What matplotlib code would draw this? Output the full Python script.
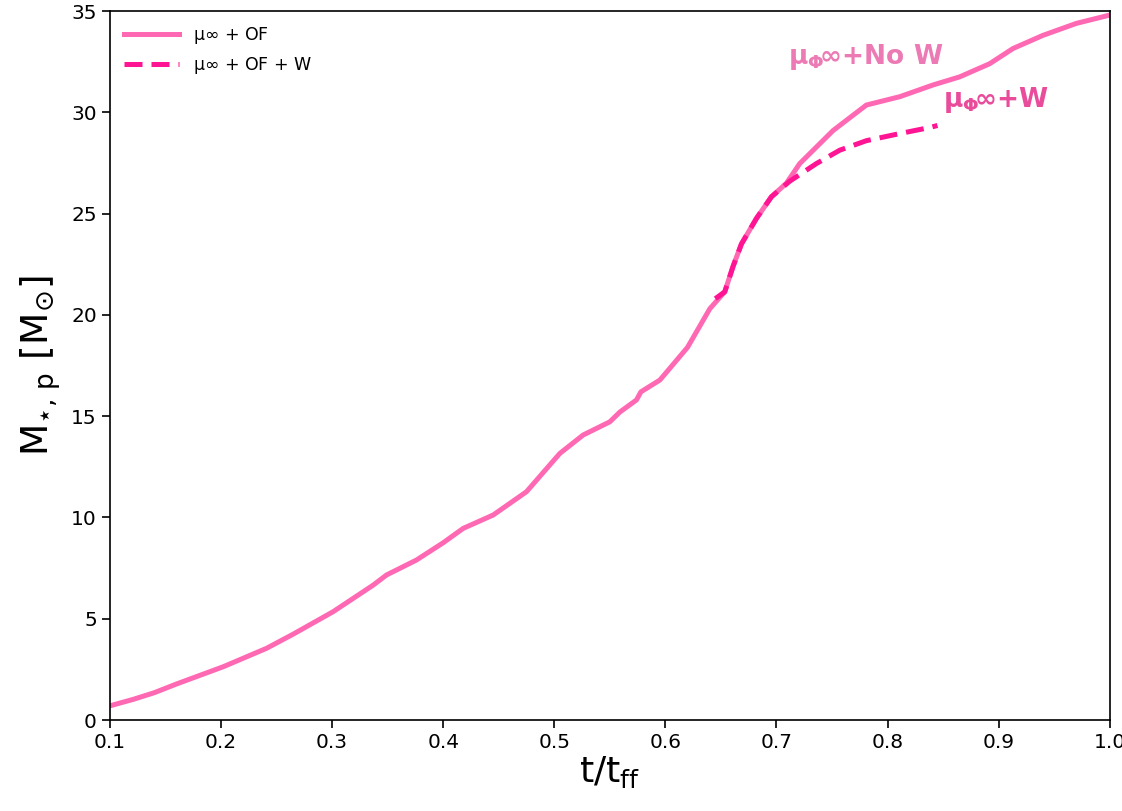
import matplotlib
matplotlib.use("Agg")
import matplotlib.pyplot as plt

# Stellar mass growth, no-wind run
t_nowind = [0.100, 0.121, 0.140, 0.160, 0.202, 0.241, 0.265, 0.301, 0.337, 0.349,
            0.376, 0.400, 0.418, 0.445, 0.475, 0.505, 0.526, 0.550, 0.559, 0.574,
            0.578, 0.595, 0.600, 0.620, 0.640, 0.6535, 0.661, 0.6685, 0.682, 0.6955,
            0.709, 0.721, 0.751, 0.781, 0.811, 0.841, 0.865, 0.892, 0.913, 0.940,
            0.970, 1.000]
m_nowind = [0.70, 1.02, 1.35, 1.78, 2.63, 3.54, 4.24, 5.35, 6.66, 7.16,
            7.90, 8.75, 9.46, 10.12, 11.27, 13.16, 14.07, 14.72, 15.20, 15.80,
            16.20, 16.78, 17.10, 18.40, 20.30, 21.14, 22.40, 23.50, 24.76, 25.83,
            26.50, 27.47, 29.10, 30.36, 30.77, 31.35, 31.75, 32.40, 33.15, 33.80,
            34.39, 34.80]

# Stellar mass growth, wind run
t_wind = [0.645, 0.6535, 0.661, 0.6685, 0.682, 0.6955, 0.712, 0.736, 0.757,
          0.781, 0.811, 0.838, 0.845]
m_wind = [20.80, 21.14, 22.40, 23.50, 24.76, 25.83, 26.60, 27.47, 28.13,
          28.60, 28.95, 29.25, 29.35]

label_nowind = r"$\mathregular{\mu\infty}$ + OF"
label_wind = r"$\mathregular{\mu\infty}$ + OF + W"

fig = plt.figure(figsize=(11.22, 8.11), dpi=100)
ax = fig.add_axes([0.098, 0.1122, 0.891, 0.8742])

ax.plot(t_nowind, m_nowind, color="#ff69b4", lw=3.6, label=label_nowind)
ax.plot(t_wind, m_wind, color="#ff1493", lw=3.6, ls=(0, (3.6, 1.8)), label=label_wind)

ax.set_xlim(0.1, 1.0)
ax.set_ylim(0, 35)
ax.set_xticks([0.1, 0.2, 0.3, 0.4, 0.5, 0.6, 0.7, 0.8, 0.9, 1.0])
ax.set_yticks([0, 5, 10, 15, 20, 25, 30, 35])
ax.tick_params(labelsize=14.5, length=6, width=1.2)
for s in ax.spines.values():
    s.set_linewidth(1.2)

ax.set_xlabel(r"$\mathregular{t/t_{ff}}$", fontsize=26, labelpad=1)
ax.set_ylabel(r"$\mathregular{M_{\star,\,p}\ [M_{\odot}]}$", fontsize=27, labelpad=6)

ax.legend(loc="upper left", frameon=False, fontsize=12.5, handlelength=3.2,
          borderaxespad=0.4)

ax.text(0.71, 32.75, r"$\mathbf{\mu_{\Phi}\!\infty}$+No W", color="#ec7ab4",
        fontsize=19, fontweight="bold", va="center", ha="left")
ax.text(0.85, 30.6, r"$\mathbf{\mu_{\Phi}\!\infty}$+W", color="#ea4c9c",
        fontsize=19, fontweight="bold", va="center", ha="left")

fig.savefig("out.png", dpi=100)
